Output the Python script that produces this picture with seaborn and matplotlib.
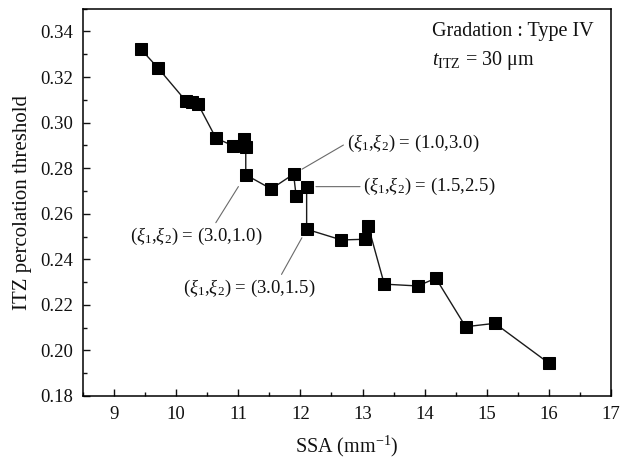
import matplotlib
matplotlib.use("Agg")
import matplotlib.pyplot as plt
from matplotlib.ticker import MultipleLocator
import numpy as np
import pandas as pd
import seaborn as sns

# ---- data ----
ssa = [9.43, 9.71, 10.15, 10.25, 10.35, 10.64, 10.91, 11.09, 11.12, 11.12,
       11.53, 11.89, 11.93, 12.10, 12.10, 12.66, 13.04, 13.09, 13.35, 13.89,
       14.18, 14.66, 15.13, 16.00]
threshold = [0.3323, 0.3239, 0.3097, 0.3090, 0.3082, 0.2932, 0.2899, 0.2929,
             0.2892, 0.2771, 0.2709, 0.2774, 0.2680, 0.2719, 0.2532, 0.2485,
             0.2488, 0.2547, 0.2291, 0.2283, 0.2317, 0.2104, 0.2119, 0.1944]

x_ticks = [9, 10, 11, 12, 13, 14, 15, 16, 17]
y_ticks = [0.18, 0.20, 0.22, 0.24, 0.26, 0.28, 0.30, 0.32, 0.34]

# annotated cases: (label, index of annotated point)
annot_labels = [r"$(\xi_1{,}\xi_2)$ = (1.0,3.0)", r"$(\xi_1{,}\xi_2)$ = (1.5,2.5)",
                r"$(\xi_1{,}\xi_2)$ = (3.0,1.0)", r"$(\xi_1{,}\xi_2)$ = (3.0,1.5)"]
annot_index = [11, 13, 9, 14]

df = pd.DataFrame({"SSA": ssa, "threshold": threshold})

sns.set_style("ticks")
plt.rcParams["font.family"] = ["Liberation Serif", "DejaVu Serif"]
plt.rcParams["mathtext.fontset"] = "custom"
plt.rcParams["mathtext.rm"] = "Liberation Serif"
plt.rcParams["mathtext.it"] = "Liberation Serif:italic"
plt.rcParams["mathtext.bf"] = "Liberation Serif:bold"
plt.rcParams["text.color"] = "#111111"
plt.rcParams["axes.labelcolor"] = "#111111"
plt.rcParams["xtick.color"] = "#111111"
plt.rcParams["ytick.color"] = "#111111"

fig = plt.figure(figsize=(6.27, 4.61), dpi=100)
ax = fig.add_axes([0.1324, 0.1410, 0.8421, 0.8401])

sns.lineplot(data=df, x="SSA", y="threshold", sort=False, estimator=None,
             marker="s", markersize=9, color="#1a1a1a", linewidth=1.0,
             markeredgecolor="black", markerfacecolor="black", ax=ax)

ax.set_xlim(8.5, 17)
ax.set_ylim(0.18, 0.35)
ax.set_xticks(x_ticks)
ax.set_yticks(y_ticks)
ax.set_xticklabels([str(v) for v in x_ticks])
ax.set_yticklabels([f"{v:.2f}" for v in y_ticks])
ax.xaxis.set_minor_locator(MultipleLocator(0.5))
ax.yaxis.set_minor_locator(MultipleLocator(0.01))
ax.tick_params(which="major", direction="in", length=5, width=1.0,
               labelsize=13.5, pad=7, top=False, right=False)
ax.tick_params(which="minor", direction="in", length=3, width=1.0,
               top=False, right=False)
for s in ax.spines.values():
    s.set_linewidth(1.1)
    s.set_color("black")

ax.set_xlabel(r"SSA (mm$^{\mathregular{-1}}$)", fontsize=14.5, labelpad=8)
ax.set_ylabel("ITZ percolation threshold", fontsize=15, labelpad=6)

# annotations
text_pos = [(12.745, 0.2910), (13.012, 0.2719), (10.328, 0.2500), (11.176, 0.2273)]
ha = ["left", "left", "center", "center"]
relpos = [(0.0, 0.5), (0.0, 0.5), (0.63, 1.0), (0.73, 1.0)]
shrinkB = [7, 6.7, 10, 7]
for lab, idx, pos, h, rp, sb in zip(annot_labels, annot_index, text_pos, ha, relpos, shrinkB):
    ax.annotate(lab, xy=(ssa[idx], threshold[idx]), xytext=pos,
                ha=h, va="center", fontsize=13.5,
                arrowprops=dict(arrowstyle="-", color="#6a6a6a", lw=0.8,
                                relpos=rp, shrinkA=0, shrinkB=sb))

ax.text(0.661, 0.942, "Gradation : Type IV", transform=ax.transAxes,
        ha="left", va="center", fontsize=14.5)
ax.text(0.661, 0.867, r"$t_{\mathregular{ITZ}}$ = 30 μm", transform=ax.transAxes,
        ha="left", va="center", fontsize=14.5)

fig.savefig("out.png", dpi=100)
